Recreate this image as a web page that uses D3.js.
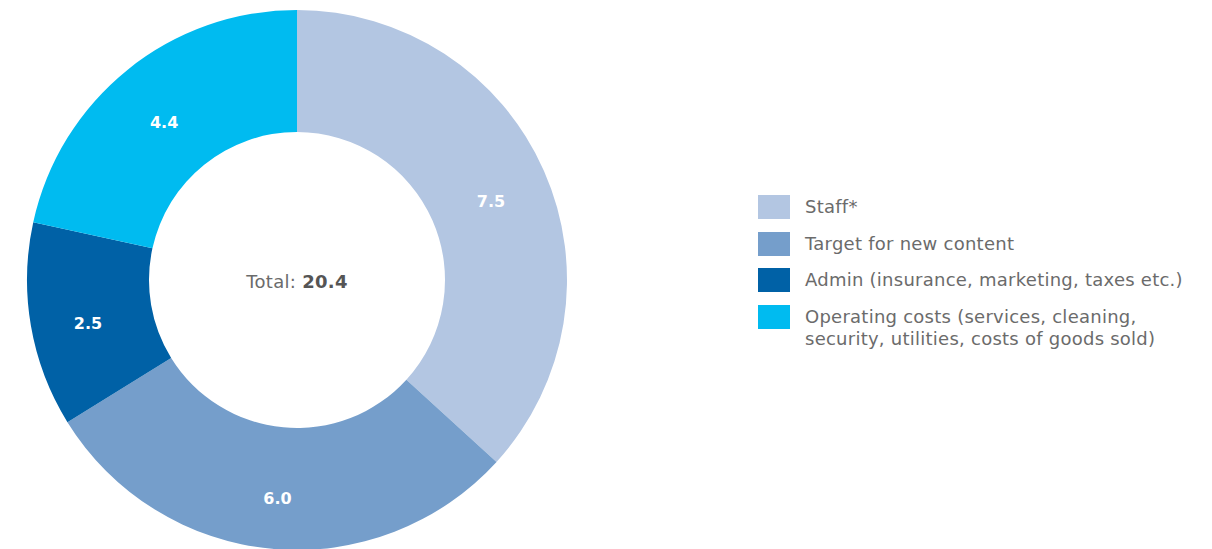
<!DOCTYPE html>
<html>
<head>
<meta charset="utf-8">
<script src="https://cdn.jsdelivr.net/npm/d3@7"></script>
<style>
  html, body { margin: 0; padding: 0; background: #fff; }
  svg { display: block; font-family: "DejaVu Sans", "Open Sans", sans-serif; }
</style>
</head>
<body>
<svg id="chart" width="1212" height="549"></svg>
<script>
// Cost breakdown (values shown on each slice)
const categories = [
  "Staff*",
  "Target for new content",
  "Admin (insurance, marketing, taxes etc.)",
  "Operating costs (services, cleaning, security, utilities, costs of goods sold)"
];
const values = [7.5, 6.0, 2.5, 4.4];
const colors = ["#b3c6e2", "#759ecb", "#0061a6", "#00bbf0"];
// Legend labels, split into lines
const legendLines = [
  ["Staff*"],
  ["Target for new content"],
  ["Admin (insurance, marketing, taxes etc.)"],
  ["Operating costs (services, cleaning,", "security, utilities, costs of goods sold)"]
];
const totalLabel = "Total: ";
const totalValue = 20.4;

const svg = d3.select("#chart");
const cx = 297, cy = 280, outerR = 270, innerR = 148;

const data = categories.map((c, i) => ({ name: c, value: values[i], color: colors[i] }));

const pie = d3.pie().value(d => d.value).sort(null);
const arc = d3.arc().innerRadius(innerR).outerRadius(outerR);
const labelArc = d3.arc().innerRadius(212).outerRadius(212);

const g = svg.append("g").attr("transform", `translate(${cx},${cy})`);
const arcs = pie(data);

g.selectAll("path.slice")
  .data(arcs)
  .join("path")
  .attr("class", "slice")
  .attr("d", arc)
  .attr("fill", d => d.data.color);

g.selectAll("text.val")
  .data(arcs)
  .join("text")
  .attr("class", "val")
  .attr("transform", d => `translate(${labelArc.centroid(d)})`)
  .attr("text-anchor", "middle")
  .attr("dy", 13)
  .attr("fill", "#fff")
  .attr("font-weight", "bold")
  .attr("font-size", 16)
  .text(d => d3.format(".1f")(d.data.value));

const total = g.append("text")
  .attr("text-anchor", "middle")
  .attr("y", 8)
  .attr("font-size", 18)
  .attr("letter-spacing", 0.3);
total.append("tspan").attr("fill", "#6b6b6b").text(totalLabel);
total.append("tspan").attr("fill", "#555").attr("font-weight", "bold").text(d3.format(".1f")(totalValue));

// Legend
const legend = svg.append("g").attr("transform", "translate(758,195)");
const rowY = [0, 37, 73, 110];
const items = legend.selectAll("g.item")
  .data(data)
  .join("g")
  .attr("class", "item")
  .attr("transform", (d, i) => `translate(0,${rowY[i]})`);

items.append("rect")
  .attr("width", 32)
  .attr("height", 24)
  .attr("fill", d => d.color);

items.append("text")
  .attr("x", 47)
  .attr("font-size", 18)
  .attr("letter-spacing", 0.25)
  .attr("fill", "#6b6b6b")
  .selectAll("tspan")
  .data((d, i) => legendLines[i])
  .join("tspan")
  .attr("x", 47)
  .attr("y", (d, j) => 18 + j * 22)
  .text(d => d);
</script>
</body>
</html>
